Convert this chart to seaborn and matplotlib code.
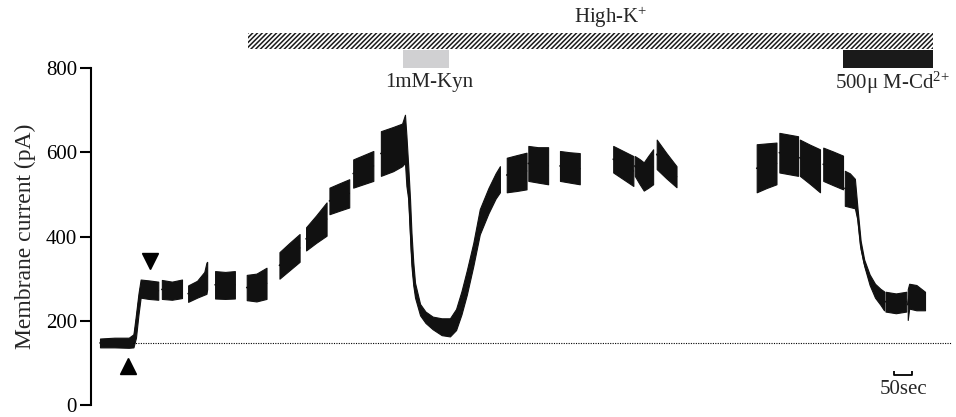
import numpy as np
import pandas as pd
import matplotlib
matplotlib.use("Agg")
import matplotlib.pyplot as plt
import seaborn as sns
from matplotlib.patches import Rectangle

nan = np.nan

time_s = [0, 40, 80, 93, 100, 107, 113, 135, 162, nan,
          172, 200, 228, nan,
          245, 270, 290, 296, 298, nan,
          320, 348, 375, nan,
          408, 435, 463, nan,
          499, 527, 555, nan,
          573, 601, 630, nan,
          638, 665, 693, nan,
          704, 732, 760, nan,
          781, 815, 840, 848, 852, 857, 862, 866, 871, 876, 890, 905, 925, 950,
          973, 990, 1005, 1020, 1038, 1056, 1080, 1100, 1112, nan,
          1131, 1158, 1186, nan,
          1191, 1218, 1246, nan,
          1279, 1306, 1334, nan,
          1427, 1455, 1483, nan,
          1487, 1500, 1512, 1525, 1538, nan,
          1548, 1575, 1603, nan,
          1826, 1853, 1881, nan,
          1889, 1915, 1941, nan,
          1946, 1974, 2002, nan,
          2011, 2038, 2066, nan,
          2071, 2085, 2099, 2106, 2115, 2125, 2140, 2155, 2170, 2180, nan,
          2184, 2213, 2242, nan,
          2246, 2250, 2270, 2294]
upper_pA = [158, 160, 160, 168, 215, 265, 298, 296, 293, nan,
            297, 293, 298, nan,
            284, 295, 316, 338, 340, nan,
            318, 316, 318, nan,
            309, 312, 326, nan,
            363, 385, 406, nan,
            422, 450, 481, nan,
            516, 526, 536, nan,
            583, 593, 603, nan,
            650, 660, 668, 689, 640, 568, 490, 410, 340, 290, 240, 222, 210, 206,
            206, 228, 270, 320, 385, 465, 515, 550, 567, nan,
            587, 593, 599, nan,
            615, 612, 612, nan,
            603, 600, 598, nan,
            615, 603, 591, nan,
            591, 584, 576, 592, 607, nan,
            630, 598, 567, nan,
            619, 621, 623, nan,
            646, 642, 638, nan,
            630, 618, 607, nan,
            611, 602, 592, nan,
            556, 550, 537, 470, 390, 345, 310, 288, 276, 270, nan,
            269, 265, 269, nan,
            275, 288, 285, 269]
lower_pA = [137, 137, 136, 137, 160, 215, 255, 252, 250, nan,
            252, 250, 254, nan,
            245, 255, 262, 264, 275, nan,
            253, 252, 253, nan,
            249, 246, 252, nan,
            300, 320, 340, nan,
            367, 385, 402, nan,
            453, 461, 469, nan,
            516, 524, 532, nan,
            544, 555, 567, 575, 520, 489, 400, 330, 285, 255, 213, 195, 180, 166,
            163, 178, 215, 262, 330, 405, 455, 490, 505, nan,
            505, 508, 512, nan,
            532, 528, 524, nan,
            532, 528, 524, nan,
            552, 536, 520, nan,
            544, 525, 509, 516, 524, nan,
            560, 538, 517, nan,
            505, 515, 524, nan,
            552, 548, 544, nan,
            544, 525, 505, nan,
            532, 522, 512, nan,
            473, 470, 467, 440, 370, 330, 285, 255, 238, 225, nan,
            222, 218, 222, nan,
            202, 229, 225, 225]

baseline_pA = 147
baseline_span = [93, 2370]

# drug applications (start, end in s)
treat_names = ["High-K$^{+}$", "1mM-Kyn", "500\u03bc M-Cd$^{2}$$^{+}$"]
treat_start = [411, 842, 2066]
treat_end = [2316, 970, 2316]

up_arrow = (78, 93)
down_arrow = (139, 343)
scale_bar = [2208, 2258]

# long-form table: two rows per time point so the band spans lower..upper
rows = []
seg = 0
for t, hi, lo in zip(time_s, upper_pA, lower_pA):
    if np.isnan(t):
        seg += 1
        continue
    rows.append((t, hi, seg))
    rows.append((t, lo, seg))
df = pd.DataFrame(rows, columns=["time", "current", "segment"])

sns.set_theme(style="ticks")
plt.rcParams["font.family"] = ["Liberation Serif", "DejaVu Serif"]
plt.rcParams["mathtext.fontset"] = "custom"
plt.rcParams["mathtext.rm"] = "Liberation Serif"
plt.rcParams["mathtext.it"] = "Liberation Serif:italic"
plt.rcParams["hatch.linewidth"] = 1.1

fig = plt.figure(figsize=(9.56, 4.17), dpi=100)
ax = fig.add_axes([0.0952, 0.0285, 0.9006, 0.8085])

sns.lineplot(data=df, x="time", y="current", hue="segment",
             palette=["#111111"] * (seg + 1), estimator="mean",
             errorbar=("pi", 100),
             err_kws={"alpha": 1, "linewidth": 0.8, "edgecolor": "#111111"},
             linewidth=1.2, legend=False, ax=ax)

ax.plot(baseline_span, [baseline_pA] * 2, color="black", lw=0.8, ls=(0, (1, 1.2)))

ax.set_xlim(-25, 2369)
ax.set_ylim(0, 800)
ax.set_yticks([0, 200, 400, 600, 800])
ax.set_xticks([])
ax.set_xlabel("")
ax.set_ylabel("Membrane current (pA)", fontsize=17, labelpad=7)
ax.tick_params(axis="y", labelsize=15, length=8, width=1.5, pad=2,
               color="black", labelcolor="black")
sns.despine(ax=ax, bottom=True)
ax.spines["left"].set_linewidth(1.5)
ax.spines["left"].set_color("black")
ax.spines["left"].set_bounds(0, 800)

# treatment bars above the trace
ax.add_patch(Rectangle((treat_start[0], 844), treat_end[0] - treat_start[0], 40,
                       facecolor="white", edgecolor="#1a1a1a", hatch="///////",
                       linewidth=0, clip_on=False))
ax.add_patch(Rectangle((treat_start[1], 800), treat_end[1] - treat_start[1], 43,
                       facecolor="#d0d0d2", edgecolor="none", clip_on=False))
ax.add_patch(Rectangle((treat_start[2], 800), treat_end[2] - treat_start[2], 43,
                       facecolor="#1a1a1a", edgecolor="none", clip_on=False))
ax.text(1420, 920, treat_names[0], ha="center", va="center", fontsize=15, clip_on=False)
ax.text(915, 765, treat_names[1], ha="center", va="center", fontsize=15, clip_on=False)
ax.text(2205, 765, treat_names[2], ha="center", va="center", fontsize=15, clip_on=False)

ax.plot(*up_arrow, marker="^", ms=12, color="black", clip_on=False)
ax.plot(*down_arrow, marker="v", ms=12, color="black", clip_on=False)

# 50 s scale bar
ax.plot([scale_bar[0], scale_bar[0], scale_bar[1], scale_bar[1]], [82, 72, 72, 82],
        color="black", lw=1.3, solid_capstyle="butt")
ax.text(sum(scale_bar) / 2, 36, "50sec", ha="center", va="center", fontsize=15)

fig.savefig("out.png", dpi=100)
